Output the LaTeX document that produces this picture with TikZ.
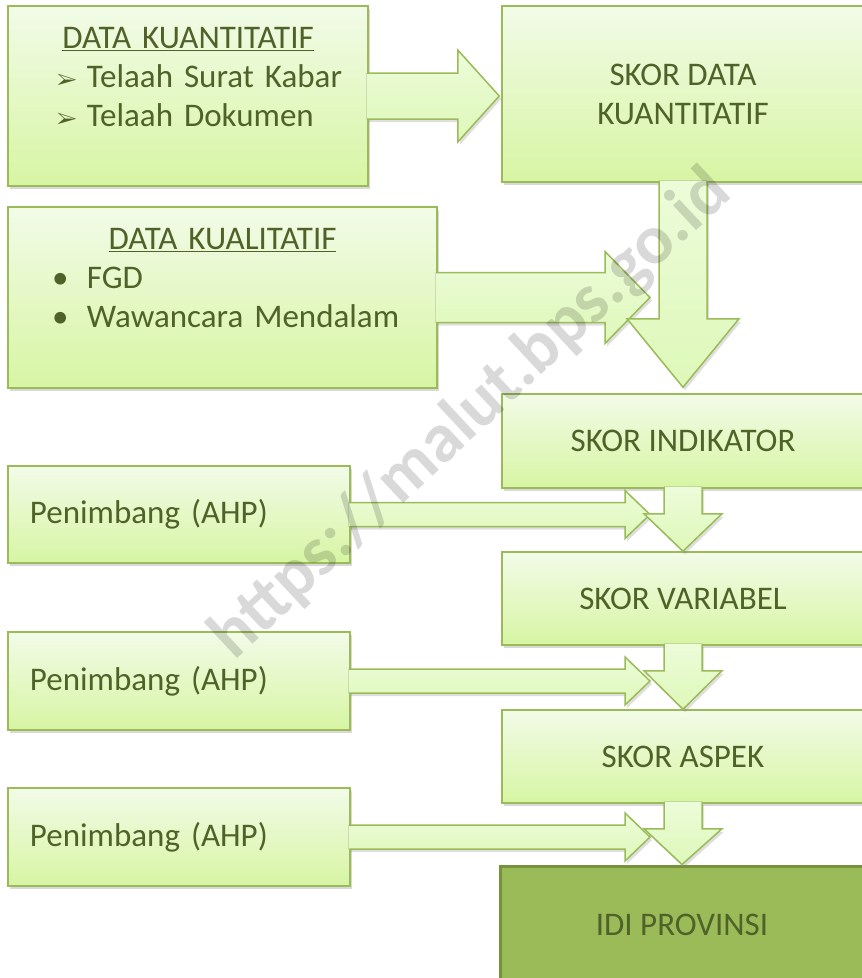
\documentclass[tikz,border=0pt]{standalone}
\usepackage{fontspec}
\setmainfont{Carlito}
\usepackage{pifont}
\usepackage{tikz}
\usetikzlibrary{calc,shadows,positioning}
\setlength{\parindent}{0pt}
\definecolor{hijauatas}{RGB}{242,251,232}
\definecolor{hijaubawah}{RGB}{215,245,163}
\definecolor{panahatas}{RGB}{236,252,218}
\definecolor{panahbawah}{RGB}{222,248,184}
\definecolor{hijaugaris}{RGB}{155,187,89}
\definecolor{hijaupekat}{RGB}{155,187,89}
\definecolor{garispekat}{RGB}{118,146,60}
\definecolor{teksijau}{RGB}{79,98,40}

\begin{document}
\begin{tikzpicture}[x=1pt,y=-1pt]

           \tikzstyle{kotak}=[draw=hijaugaris, line width=1.5pt, top color=hijauatas, bottom color=hijaubawah, text=teksijau, font=\fontsize{33}{39}\selectfont, drop shadow={shadow xshift=2pt,shadow yshift=-3pt,opacity=0.3}]
           \tikzstyle{kotakakhir}=[draw=garispekat, line width=3pt, fill=hijaupekat, text=teksijau, font=\fontsize{33}{39}\selectfont]
           \tikzstyle{panah}=[draw=hijaugaris, line width=1.5pt, line join=miter, top color=panahatas, bottom color=panahbawah, drop shadow={shadow xshift=2pt,shadow yshift=-3pt,opacity=0.25}]

    \useasboundingbox (0,0) rectangle (862,978);
    \clip (0,0) rectangle (862,978);

    \node[kotak, minimum width=360pt, minimum height=180pt, text width=360pt, inner xsep=0pt] (kuan) at (188,96)
        {\centerline{\underline{DATA KUANTITATIF}}\par\hspace*{49pt}\makebox[30pt][l]{\fontsize{22}{22}\selectfont\ding{226}}Telaah Surat Kabar\par\hspace*{49pt}\makebox[30pt][l]{\fontsize{22}{22}\selectfont\ding{226}}Telaah Dokumen\par\mbox{}};
    \node[kotak, minimum width=429pt, minimum height=181pt, text width=429pt, inner xsep=0pt] (kual) at (222.5,297.5)
        {\centerline{\underline{DATA KUALITATIF}}\par\hspace*{44pt}\makebox[35pt][l]{\textbullet}FGD\par\hspace*{44pt}\makebox[35pt][l]{\textbullet}Wawancara Mendalam\par\mbox{}};
    \node[kotak, minimum width=362pt, minimum height=176pt, align=center] (skorkuan) at (683,94) {SKOR DATA\\KUANTITATIF};
    \node[kotak, minimum width=362pt, minimum height=94pt] (indikator) at (683,441) {SKOR INDIKATOR};
    \node[kotak, minimum width=362pt, minimum height=93pt] (variabel) at (683,598.5) {SKOR VARIABEL};
    \node[kotak, minimum width=362pt, minimum height=93pt] (aspek) at (683,756.5) {SKOR ASPEK};
    \node[kotak, text width=298pt, inner xsep=22pt, minimum height=97pt, align=left] (p1) at (179,514.5) {Penimbang (AHP)};
    \node[kotak, text width=298pt, inner xsep=22pt, minimum height=98pt, align=left] (p2) at (179,681) {Penimbang (AHP)};
    \node[kotak, text width=298pt, inner xsep=22pt, minimum height=98pt, align=left] (p3) at (179,837) {Penimbang (AHP)};
    \node[kotakakhir, minimum width=364pt, minimum height=118pt] (idi) at (682,925) {IDI PROVINSI};

    % panah ke kanan
    \filldraw[panah] ($(kuan.east)+(-2,-23)$) -- ++(91,0) -- ++(0,-23) -- ($(skorkuan.west |- kuan.east)+(-2,0)$) -- ($(kuan.east)+(89,46)$) -- ++(0,-23) -- ($(kuan.east)+(-2,23)$);
    \filldraw[panah] ($(kual.east)+(-2,-25)$) -- ($(kual.east -| skorkuan.south)+(-78,-25)$) -- ++(0,-21) -- ($(kual.east -| skorkuan.south)+(-33,0)$) -- ($(kual.east -| skorkuan.south)+(-78,46)$) -- ++(0,-21) -- ($(kual.east)+(-2,25)$);
    \filldraw[panah] ($(p1.east)+(-2,-12)$) -- ($(p1.east -| indikator.south)+(-58,-12)$) -- ++(0,-12) -- ($(p1.east -| indikator.south)+(-33,0)$) -- ($(p1.east -| indikator.south)+(-58,24)$) -- ++(0,-12) -- ($(p1.east)+(-2,12)$);
    \filldraw[panah] ($(p2.east)+(-2,-12)$) -- ($(p2.east -| variabel.south)+(-58,-12)$) -- ++(0,-12) -- ($(p2.east -| variabel.south)+(-33,0)$) -- ($(p2.east -| variabel.south)+(-58,24)$) -- ++(0,-12) -- ($(p2.east)+(-2,12)$);
    \filldraw[panah] ($(p3.east)+(-2,-12)$) -- ($(p3.east -| aspek.south)+(-58,-12)$) -- ++(0,-12) -- ($(p3.east -| aspek.south)+(-33,0)$) -- ($(p3.east -| aspek.south)+(-58,24)$) -- ++(0,-12) -- ($(p3.east)+(-2,12)$);

    % panah ke bawah
    \filldraw[panah] ($(skorkuan.south)+(-24,-2)$) -- ++(0,138) -- ++(-32,0) -- ($(indikator.north)+(0,-6)$) -- ($(skorkuan.south)+(56,136)$) -- ++(-32,0) -- ($(skorkuan.south)+(24,-2)$);
    \filldraw[panah] ($(indikator.south)+(-19,-2)$) -- ++(0,27) -- ++(-20,0) -- (variabel.north) -- ($(indikator.south)+(39,25)$) -- ++(-20,0) -- ($(indikator.south)+(19,-2)$);
    \filldraw[panah] ($(variabel.south)+(-19,-2)$) -- ++(0,27) -- ++(-20,0) -- (aspek.north) -- ($(variabel.south)+(39,25)$) -- ++(-20,0) -- ($(variabel.south)+(19,-2)$);
    \filldraw[panah] ($(aspek.south)+(-19,-2)$) -- ++(0,27) -- ++(-20,0) -- (idi.north) -- ($(aspek.south)+(39,25)$) -- ++(-20,0) -- ($(aspek.south)+(19,-2)$);

    \node[rotate=43, text=black, text opacity=0.15, font=\bfseries\fontsize{70}{70}\selectfont] (tanda) at (471,415) {https://malut.bps.go.id};
 \end{tikzpicture}
\end{document}
